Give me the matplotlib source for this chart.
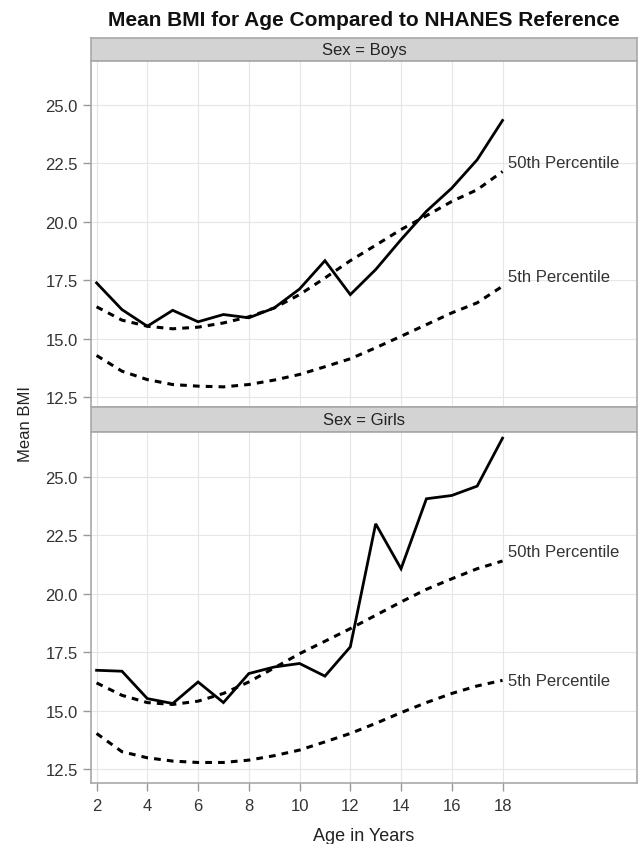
import matplotlib
matplotlib.use("Agg")
import matplotlib.pyplot as plt

plt.rcParams['font.family'] = ['Liberation Sans', 'DejaVu Sans']

ages = list(range(2, 19))

boys_mean = [17.39, 16.25, 15.54, 16.22, 15.73, 16.04, 15.90, 16.32, 17.13,
             18.34, 16.89, 17.96, 19.24, 20.45, 21.44, 22.65, 24.33]
boys_p50 = [16.37, 15.80, 15.54, 15.43, 15.50, 15.68, 15.94, 16.32, 16.89,
            17.60, 18.34, 19.00, 19.67, 20.26, 20.87, 21.37, 22.15]
boys_p5 = [14.29, 13.62, 13.26, 13.05, 12.98, 12.95, 13.05, 13.24, 13.48,
           13.81, 14.15, 14.62, 15.11, 15.61, 16.11, 16.54, 17.25]

girls_mean = [16.72, 16.68, 15.51, 15.30, 16.22, 15.34, 16.58, 16.86, 17.01,
              16.47, 17.72, 22.98, 21.06, 24.05, 24.19, 24.59, 26.64]
girls_p50 = [16.18, 15.65, 15.34, 15.26, 15.40, 15.73, 16.22, 16.82, 17.43,
             17.96, 18.50, 19.07, 19.64, 20.18, 20.63, 21.06, 21.39]
girls_p5 = [14.02, 13.24, 12.98, 12.84, 12.78, 12.78, 12.88, 13.07, 13.31,
            13.66, 14.02, 14.45, 14.91, 15.34, 15.73, 16.05, 16.29]

x_ticks = [2, 4, 6, 8, 10, 12, 14, 16, 18]
y_ticks = [12.5, 15.0, 17.5, 20.0, 22.5, 25.0]

W, H = 639, 845
fig = plt.figure(figsize=(W / 100, H / 100), dpi=100)

left = 91 / W
width = (637 - 91) / W


def box(top_px, bottom_px):
    return [left, 1 - bottom_px / H, width, (bottom_px - top_px) / H]


def panel(ax, mean, p50, p5, ylim, label_dy, show_x):
    ax.set_xlim(1.78, 23.3)
    ax.set_ylim(*ylim)
    ax.set_xticks(x_ticks)
    ax.set_yticks(y_ticks)
    ax.set_yticklabels(['%.1f' % v for v in y_ticks])
    ax.grid(True, color='#e6e6e6', lw=0.8)
    ax.set_axisbelow(True)
    for s in ax.spines.values():
        s.set_color('#a8a8a8')
        s.set_linewidth(1.2)
    ax.tick_params(axis='both', colors='#999999', length=6, width=1,
                   labelcolor='#333333', labelsize=12, pad=3.5)
    ax.tick_params(axis='x', pad=4.5)
    if not show_x:
        ax.tick_params(axis='x', length=0, labelbottom=False)
    ax.plot(ages, mean, color='black', lw=2.0, solid_joinstyle='miter')
    ax.plot(ages, p50, color='black', lw=2.2, dashes=(2.2, 2.0))
    ax.plot(ages, p5, color='black', lw=2.2, dashes=(2.2, 2.0))
    for ys, txt, dy in [(p50, '50th Percentile', label_dy[0]),
                        (p5, '5th Percentile', label_dy[1])]:
        ax.annotate(txt, (ages[-1], ys[-1]), xytext=(4, dy),
                    textcoords='offset points', va='center', ha='left',
                    fontsize=12, color='#333333')


def strip(box_, text):
    s = fig.add_axes(box_)
    s.set_xticks([])
    s.set_yticks([])
    s.set_facecolor('#d3d3d3')
    for sp in s.spines.values():
        sp.set_color('#a8a8a8')
        sp.set_linewidth(1.2)
    s.text(0.5, 0.5, text, ha='center', va='center', fontsize=12,
           color='#222222', transform=s.transAxes)


strip(box(38.5, 61.5), 'Sex = Boys')
ax1 = fig.add_axes(box(61.5, 408))
panel(ax1, boys_mean, boys_p50, boys_p5, (12.09, 26.89), (6.5, 7), False)

strip(box(408, 433.3), 'Sex = Girls')
ax2 = fig.add_axes(box(433.3, 784.3))
panel(ax2, girls_mean, girls_p50, girls_p5, (11.89, 26.89), (6.5, 0), True)

fig.text((91 + 637) / 2 / W, 1 - 20.5 / H,
         'Mean BMI for Age Compared to NHANES Reference',
         ha='center', va='center', fontsize=15, fontweight='bold',
         color='#111111')
fig.text(25.5 / W, 1 - 424 / H, 'Mean BMI', rotation=90, ha='center',
         va='center', fontsize=12, color='#222222')
fig.text((91 + 637) / 2 / W, 1 - 837 / H, 'Age in Years', ha='center',
         va='center', fontsize=13, color='#222222')

fig.savefig('out.png', dpi=100)
